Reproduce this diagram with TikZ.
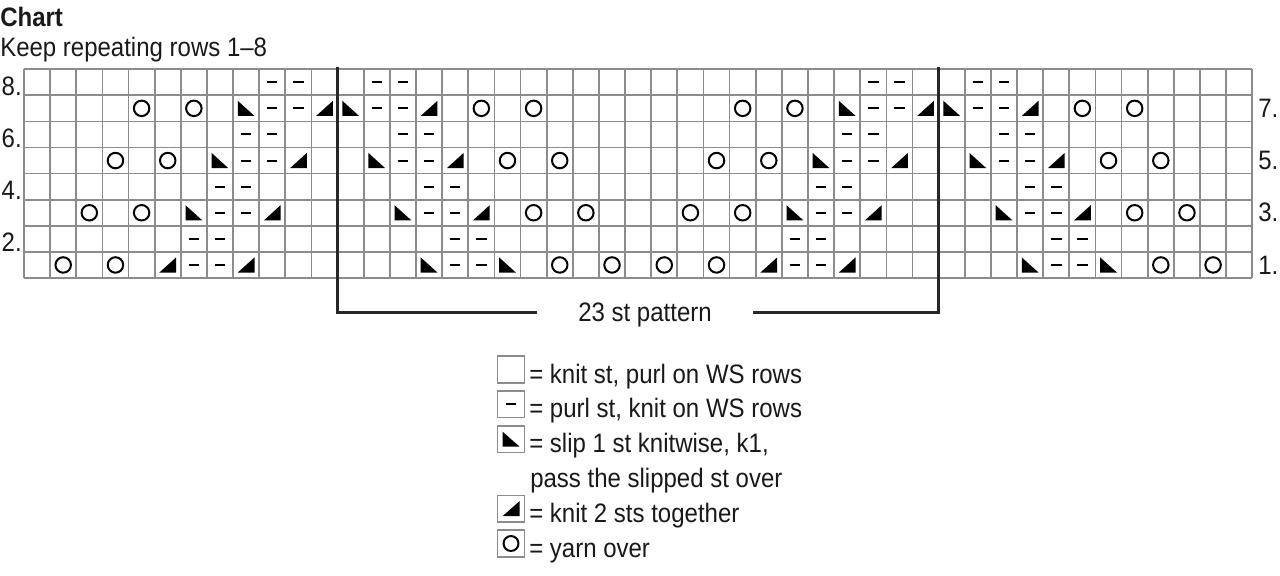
\documentclass[tikz,border=0pt]{standalone}
\usepackage{fontspec}
\setmainfont{Liberation Sans}[FakeStretch=0.9]
\usetikzlibrary{positioning}

\begin{document}
\begin{tikzpicture}[
    x=0.75pt, y=-0.75pt,
    txt/.style={inner sep=0pt, font=\fontsize{20pt}{24pt}\selectfont, text=black!90},
    head/.style={inner sep=0pt, font=\fontsize{20pt}{24pt}\selectfont\bfseries, text=black!90},
    gridline/.style={draw=black!45, line width=1.3pt},
    repline/.style={draw=black!85, line width=2.2pt},
    purl/.style={line width=1.5pt, black},
    yo/.style={line width=1.5pt, black},
    dec/.style={fill=black},
    legbox/.style={rectangle, draw=black!45, line width=1.2pt, minimum size=20pt, inner sep=0pt}
]
    \useasboundingbox (0,0) rectangle (1280,575);
    \fill[white] (0,0) rectangle (1280,575);

    % heading
    \node[head, anchor=base west] (title) at (0,26) {Chart};
    \node[txt, anchor=base west] (sub) at (0,56) {Keep repeating rows 1–8};

    % chart, one unit = one stitch
    \begin{scope}[shift={(24,278)}, x=19.6pt, y=19.575pt]
        \foreach \c in {0,...,47}
            \draw[gridline] (\c,0) -- (\c,8);
        \foreach \r in {0,...,8}
            \draw[gridline] (0,\r) -- (47,\r);
        % purl
        \foreach \r/\cs in {1/{7,8,17,18,30,31,40,41}, 2/{7,8,17,18,30,31,40,41},
                            3/{8,9,16,17,31,32,39,40}, 4/{8,9,16,17,31,32,39,40},
                            5/{9,10,15,16,32,33,38,39}, 6/{9,10,15,16,32,33,38,39},
                            7/{10,11,14,15,33,34,37,38}, 8/{10,11,14,15,33,34,37,38}}
            \foreach \c in \cs
                \draw[purl] (\c-0.7,\r-0.5) -- (\c-0.3,\r-0.5);
        % yarn over
        \foreach \r/\cs in {1/{2,4,21,23,25,27,44,46}, 3/{3,5,20,22,26,28,43,45},
                            5/{4,6,19,21,27,29,42,44}, 7/{5,7,18,20,28,30,41,43}}
            \foreach \c in \cs
                \draw[yo] (\c-0.5,\r-0.5) circle[radius=5.8pt];
        % slip 1, k1, psso
        \foreach \r/\cs in {1/{16,19,39,42}, 3/{7,15,30,38}, 5/{8,14,31,37}, 7/{9,13,32,36}}
            \foreach \c in \cs
                \fill[dec] (\c-0.5,\r-0.5) ++(-0.32,0.29) -- ++(0,-0.58) -- ++(0.64,0) -- cycle;
        % k2tog
        \foreach \r/\cs in {1/{6,9,29,32}, 3/{10,18,33,41}, 5/{11,17,34,40}, 7/{12,16,35,39}}
            \foreach \c in \cs
                \fill[dec] (\c-0.5,\r-0.5) ++(0.32,0.29) -- ++(0,-0.58) -- ++(-0.64,0) -- cycle;
    \end{scope}

    % row numbers
    \node[txt, anchor=base east] (r8) at (22,95.3) {8.};
    \node[txt, anchor=base east] (r6) at (22,147.5) {6.};
    \node[txt, anchor=base east] (r4) at (22,199.7) {4.};
    \node[txt, anchor=base east] (r2) at (22,251.9) {2.};
    \node[txt, anchor=west] (r7) at (1258,108.4) {7.};
    \node[txt, anchor=west] (r5) at (1258,160.6) {5.};
    \node[txt, anchor=west] (r3) at (1258,212.8) {3.};
    \node[txt, anchor=west] (r1) at (1258,265) {1.};

    % pattern repeat
    \coordinate (repl) at (337.3,67);
    \coordinate (repr) at (938.3,67);
    \node[txt, text depth=0pt, inner xsep=31pt] (rep) at (645,312.5) {23 st pattern};
    \draw[repline] (repl) |- (rep.west);
    \draw[repline] (repr) |- (rep.east);

    % key
    \node[legbox] (lknit) at (511,369.5) {};
    \node[txt, anchor=base west] (tknit) at (529,383) {= knit st, purl on WS rows};
    \node[legbox] (lpurl) at (511,404.3) {};
    \draw[purl] ([xshift=-3.8pt]lpurl.center) -- ([xshift=3.8pt]lpurl.center);
    \node[txt, anchor=base west] (tpurl) at (529,417.8) {= purl st, knit on WS rows};
    \node[legbox] (lssk) at (511,439.1) {};
    \fill[dec] (lssk.center) ++(-8.5,-7.5) -- ++(0,15) -- ++(17,0) -- cycle;
    \node[txt, anchor=base west] (tssk) at (529,452.6) {= slip 1 st knitwise, k1,};
    \node[txt, anchor=base west] (tssk2) at (530,487.4) {pass the slipped st over};
    \node[legbox] (lktog) at (511,508.7) {};
    \fill[dec] (lktog.center) ++(8.5,-7.5) -- ++(0,15) -- ++(-17,0) -- cycle;
    \node[txt, anchor=base west] (tktog) at (529,522.2) {= knit 2 sts together};
    \node[legbox] (lyo) at (511,543.5) {};
    \draw[yo] (lyo.center) circle[radius=5.6pt];
    \node[txt, anchor=base west] (tyo) at (529,557) {= yarn over};
\end{tikzpicture}
\end{document}
